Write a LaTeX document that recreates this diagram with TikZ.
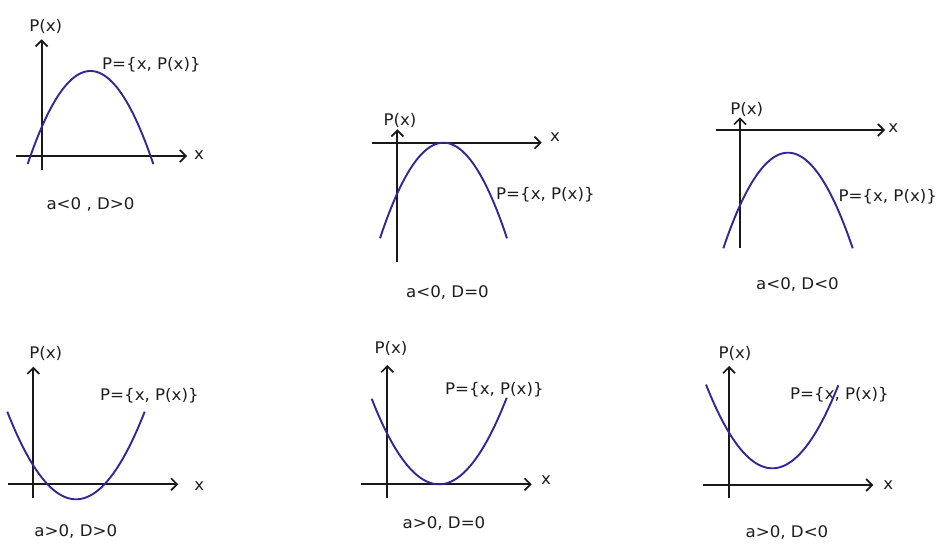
\documentclass[tikz,border=0pt]{standalone}
\usepackage{fontspec}
\setmainfont{DejaVu Sans}[FakeStretch=1.04]
\usetikzlibrary{arrows.meta}
\definecolor{curveblue}{RGB}{48,40,150}
\definecolor{txt}{RGB}{30,30,30}
\begin{document}
\begin{tikzpicture}[x=1pt,y=-1pt,
  axis/.style={line width=2pt, black!90, -{Straight Barb[length=6pt,width=12pt,line width=1.7pt]}},
  curve/.style={line width=1.9pt, curveblue},
  lbl/.style={inner sep=0pt, text=txt, font=\fontsize{16}{18}\selectfont},
  eqlbl/.style={lbl, anchor=west}]
\useasboundingbox[fill=white] (0,0) rectangle (944,545);

% Panel 1: a<0, D>0
\draw[axis] (41.7,170) -- (41.7,39.3);
\draw[axis] (16,156) -- (187,156);
\node[lbl] (p1y) at (45.7,26.7) {P(x)};
\node[lbl] (p1x) at (199,155) {x};
\node[eqlbl] (p1e) at (102,65) {P=\{x, P(x)\}};
\node[lbl] (p1c) at (90.5,204) {a<0 , D>0};
\draw[curve] plot[domain=27.7:153.3, samples=80] (\x, {71+93*((\x-90.5)/62.8)^2});

% Panel 2: a<0, D=0
\draw[axis] (397.3,261.7) -- (397.3,129.3);
\draw[axis] (371.7,142.7) -- (541.7,142.7);
\node[lbl] (p2y) at (400,120.7) {P(x)};
\node[lbl] (p2x) at (555,137.3) {x};
\node[eqlbl] (p2e) at (496,195) {P=\{x, P(x)\}};
\node[lbl] (p2c) at (447.5,292.3) {a<0, D=0};
\draw[curve] plot[domain=380:507, samples=80] (\x, {142.7+95.6*((\x-443.5)/63.5)^2});

% Panel 3: a<0, D<0
\draw[axis] (740,248.3) -- (740,117.3);
\draw[axis] (716,130) -- (885,130);
\node[lbl] (p3y) at (746.7,109) {P(x)};
\node[lbl] (p3x) at (893.3,127.7) {x};
\node[eqlbl] (p3e) at (838.3,196.7) {P=\{x, P(x)\}};
\node[lbl] (p3c) at (797.5,284) {a<0, D<0};
\draw[curve] plot[domain=723.3:852.7, samples=80] (\x, {152.7+95.6*((\x-788)/64.7)^2});

% Panel 4: a>0, D>0
\draw[axis] (33.3,498.3) -- (33.3,366.7);
\draw[axis] (8.3,484.3) -- (178.3,484.3);
\node[lbl] (p4y) at (45.7,353.3) {P(x)};
\node[lbl] (p4x) at (199.3,485.7) {x};
\node[eqlbl] (p4e) at (100,396) {P=\{x, P(x)\}};
\node[lbl] (p4c) at (75.8,531.7) {a>0, D>0};
\draw[curve] plot[domain=7.3:144.7, samples=80] (\x, {499.3-87.6*((\x-76)/68.7)^2});

% Panel 5: a>0, D=0
\draw[axis] (387.3,498.3) -- (387.3,365);
\draw[axis] (360.7,484.3) -- (531.7,484.3);
\node[lbl] (p5y) at (391,348.3) {P(x)};
\node[lbl] (p5x) at (546,480) {x};
\node[eqlbl] (p5e) at (445,390) {P=\{x, P(x)\}};
\node[lbl] (p5c) at (444,523.3) {a>0, D=0};
\draw[curve] plot[domain=371.7:506.7, samples=80] (\x, {484.3-86*((\x-439)/67.5)^2});

% Panel 6: a>0, D<0
\draw[axis] (729,498.3) -- (729,366);
\draw[axis] (703.3,485) -- (873.3,485);
\node[lbl] (p6y) at (735,353.3) {P(x)};
\node[lbl] (p6x) at (888.3,485) {x};
\node[eqlbl] (p6e) at (790,395) {P=\{x, P(x)\}};
\node[lbl] (p6c) at (787,532.7) {a>0, D<0};
\draw[curve] plot[domain=706:838.3, samples=80] (\x, {468.3-83*((\x-772.3)/66)^2});
\end{tikzpicture}
\end{document}
